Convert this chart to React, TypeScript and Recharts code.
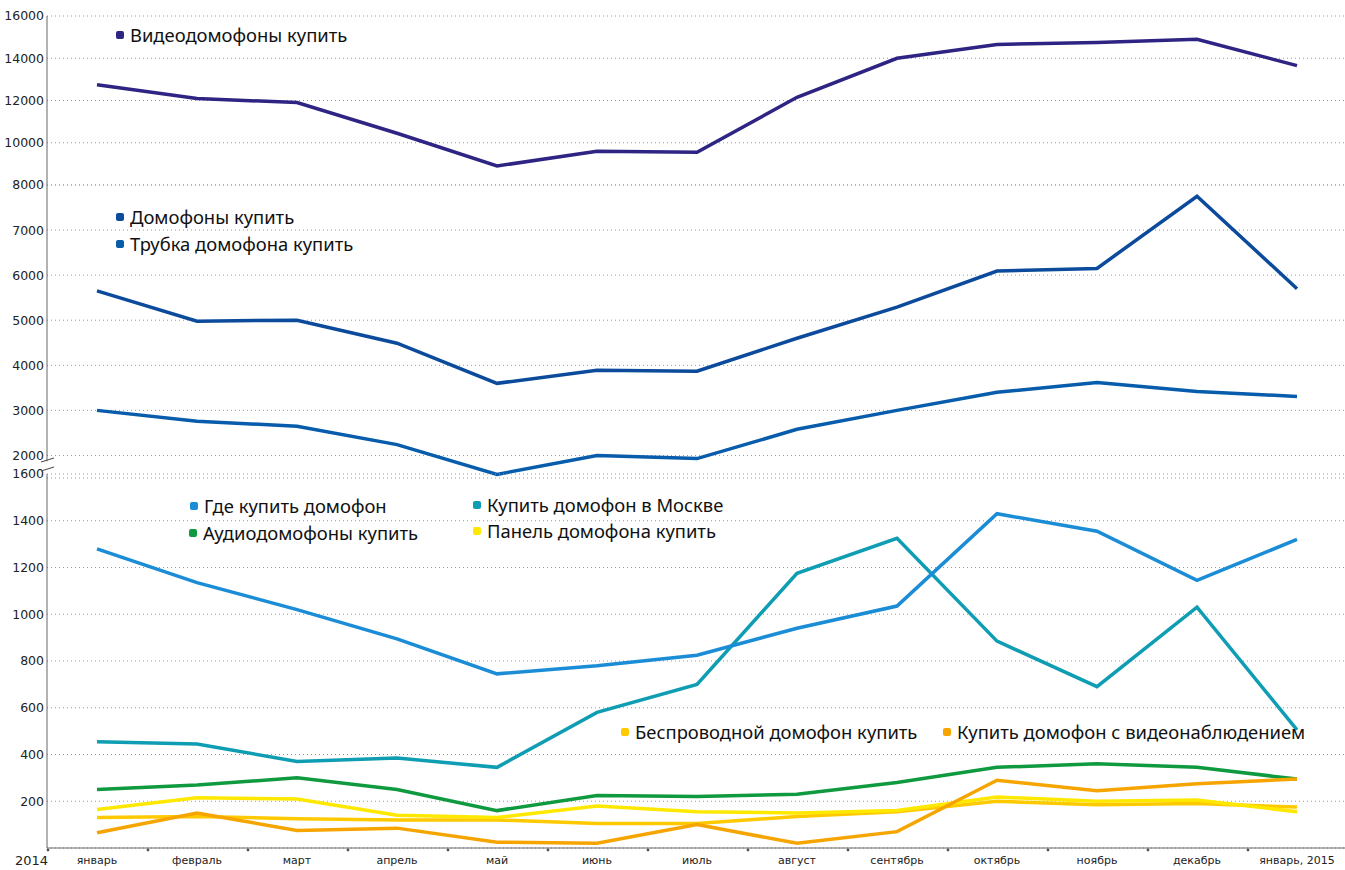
import React from 'react';
import { LineChart, Line, XAxis, YAxis, CartesianGrid, ReferenceLine } from 'recharts';

const months = ['январь', 'февраль', 'март', 'апрель', 'май', 'июнь', 'июль', 'август', 'сентябрь', 'октябрь', 'ноябрь', 'декабрь', 'январь, 2015'];
const startYear = '2014';

// top panel
const videoDomofony = [12750, 12100, 11900, 10450, 8900, 9600, 9550, 12150, 14000, 14650, 14750, 14900, 13650];
// middle panel
const domofony = [5650, 4980, 5000, 4490, 3600, 3890, 3870, 4600, 5290, 6090, 6150, 7750, 5700];
const trubka = [3000, 2760, 2650, 2240, 1580, 2000, 1930, 2580, 3000, 3400, 3620, 3420, 3310];
// bottom panel
const gde = [1280, 1135, 1020, 895, 745, 780, 825, 940, 1035, 1430, 1355, 1145, 1320];
const moskva = [455, 445, 370, 385, 345, 580, 700, 1175, 1325, 885, 690, 1030, 505];
const audio = [250, 270, 300, 250, 160, 225, 220, 230, 280, 345, 360, 345, 295];
const panel = [165, 215, 210, 140, 130, 180, 155, 150, 160, 218, 200, 205, 155];
const besprovod = [130, 135, 125, 120, 120, 105, 105, 135, 155, 200, 185, 190, 175];
const videonabl = [65, 150, 75, 85, 25, 20, 100, 20, 70, 290, 245, 275, 295];

const topTicks = [8000, 10000, 12000, 14000, 16000];
const midTicks = [2000, 3000, 4000, 5000, 6000, 7000];
const bottomTicks = [200, 400, 600, 800, 1000, 1200, 1400, 1600];
// month labels sit on whole numbers, small tick marks between months
const xTicks = [...months.map((_, k) => k - 0.5), 12.5, ...months.map((_, k) => k)].sort((a, b) => a - b);

const S = {
  video: { name: 'Видеодомофоны купить', color: '#2e2483' },
  domofony: { name: 'Домофоны купить', color: '#0c4b9c' },
  trubka: { name: 'Трубка домофона купить', color: '#075cab' },
  gde: { name: 'Где купить домофон', color: '#1b8cd6' },
  moskva: { name: 'Купить домофон в Москве', color: '#0e9db2' },
  audio: { name: 'Аудиодомофоны купить', color: '#0f9a40' },
  panel: { name: 'Панель домофона купить', color: '#ffe800' },
  besprovod: { name: 'Беспроводной домофон купить', color: '#ffc900' },
  videonabl: { name: 'Купить домофон с видеонаблюдением', color: '#f6a500' },
};

const topData = months.map((m, i) => ({ i, video: videoDomofony[i] }));
const midData = months.map((m, i) => ({ i, domofony: domofony[i], trubka: trubka[i] }));
const bottomData = months.map((m, i) => ({
  i,
  gde: gde[i],
  moskva: moskva[i],
  audio: audio[i],
  panel: panel[i],
  besprovod: besprovod[i],
  videonabl: videonabl[i],
}));

const W = 1347;
const H = 870;
const AXIS = '#666';
const tickFont = { fontSize: 12.5, fill: '#222', fontFamily: 'DejaVu Sans' };
const grid = { stroke: '#999', strokeDasharray: '1 3', vertical: false };

const line = (key: keyof typeof S) => (
  <Line
    key={key}
    type="linear"
    dataKey={key}
    stroke={S[key].color}
    strokeWidth={3.5}
    dot={false}
    isAnimationActive={false}
  />
);

const yAxisProps = {
  type: 'number' as const,
  width: 47,
  tickLine: false,
  tickSize: 3,
  tickMargin: 0,
  interval: 0 as const,
  tick: tickFont,
};

function LegendItem({ k, left, cy }: { k: keyof typeof S; left: number; cy: number }) {
  return (
    <div
      style={{
        position: 'absolute',
        left,
        top: cy - 13,
        height: 24,
        display: 'flex',
        alignItems: 'center',
        whiteSpace: 'nowrap',
        fontFamily: '"Noto Sans", sans-serif',
        fontSize: 18.4,
        color: '#111',
      }}
    >
      <span style={{ width: 8, height: 8, borderRadius: 2, background: S[k].color, marginRight: 6, marginTop: 1 }} />
      {S[k].name}
    </div>
  );
}

function MonthTick(props: any) {
  const v = props.payload.value;
  const { x, y } = props;
  if (Number.isInteger(v)) {
    return (
      <text x={x} y={y} dy="0.71em" textAnchor="middle" fontSize={11} fill="#222" fontFamily="DejaVu Sans">
        {months[v]}
      </text>
    );
  }
  return (
    <g>
      <circle cx={x + 1} cy={850} r={1.4} fill="#555" />
      {v === -0.5 && (
        <text x={x + 1} y={y} dy="0.71em" textAnchor="end" fontSize={13} fill="#222" fontFamily="DejaVu Sans">
          {startYear}
        </text>
      )}
    </g>
  );
}

export default function App() {
  return (
    <div style={{ position: 'relative', width: 1345, height: H, overflow: 'hidden', background: '#fff' }}>
      <style>{'body{margin:0}'}</style>

      <div style={{ position: 'absolute', left: 0, top: 0 }}>
        <LineChart width={W} height={H} data={topData} margin={{ top: 16, right: 0, bottom: H - 185, left: 0 }}>
          <CartesianGrid {...grid} />
          <XAxis type="number" dataKey="i" domain={[-0.5, 12.5]} hide />
          <YAxis {...yAxisProps} domain={[8000, 16000]} ticks={topTicks} axisLine={{ stroke: AXIS }} />
          {line('video')}
        </LineChart>
      </div>

      <div style={{ position: 'absolute', left: 0, top: 0 }}>
        <LineChart width={W} height={H} data={midData} margin={{ top: 185, right: 0, bottom: H - 478, left: 0 }}>
          <CartesianGrid {...grid} />
          <XAxis type="number" dataKey="i" domain={[-0.5, 12.5]} hide />
          <YAxis {...yAxisProps} domain={[1500, 8000]} ticks={midTicks} axisLine={false} />
          <ReferenceLine segment={[{ x: -0.5, y: 8000 }, { x: -0.5, y: 1870 }]} stroke={AXIS} ifOverflow="visible" />
          {line('domofony')}
          {line('trubka')}
        </LineChart>
      </div>

      <div style={{ position: 'absolute', left: 0, top: 0 }}>
        <LineChart width={W} height={H} data={bottomData} margin={{ top: 474, right: 0, bottom: 0, left: 0 }}>
          <CartesianGrid {...grid} />
          <XAxis
            type="number"
            dataKey="i"
            domain={[-0.5, 12.5]}
            ticks={xTicks}
            interval={0}
            height={22}
            tickLine={false}
            axisLine={{ stroke: AXIS }}
            tick={MonthTick}
          />
          <YAxis {...yAxisProps} domain={[0, 1600]} ticks={bottomTicks} axisLine={{ stroke: AXIS }} />
          {line('moskva')}
          {line('gde')}
          {line('audio')}
          {line('besprovod')}
          {line('panel')}
          {line('videonabl')}
        </LineChart>
      </div>

      <svg width={60} height={30} style={{ position: 'absolute', left: 30, top: 450 }}>
        <rect x={14} y={12} width={6} height={10} fill="#fff" />
        <line x1={11} y1={12} x2={24} y2={8} stroke="#555" strokeWidth={1.2} />
        <line x1={11} y1={21} x2={24} y2={17} stroke="#555" strokeWidth={1.2} />
      </svg>

      <LegendItem k="video" left={116} cy={35} />
      <LegendItem k="domofony" left={116} cy={217} />
      <LegendItem k="trubka" left={116} cy={244} />
      <LegendItem k="gde" left={190} cy={506} />
      <LegendItem k="moskva" left={473} cy={505} />
      <LegendItem k="audio" left={189} cy={533} />
      <LegendItem k="panel" left={473} cy={531} />
      <LegendItem k="besprovod" left={621} cy={732} />
      <LegendItem k="videonabl" left={943} cy={732} />
    </div>
  );
}
